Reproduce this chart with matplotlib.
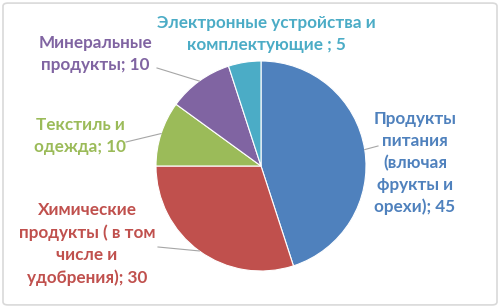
import matplotlib.pyplot as plt
import numpy as np
from matplotlib.patches import FancyBboxPatch

plt.rcParams["font.family"] = ["Lato", "DejaVu Sans"]

labels = [
    "Продукты\nпитания\n(влючая\nфрукты и\nорехи); 45",
    "Химические\nпродукты ( в том\nчисле и\nудобрения); 30",
    "Текстиль и\nодежда; 10",
    "Минеральные\nпродукты; 10",
    "Электронные устройства и\nкомплектующие ; 5",
]
values = [45, 30, 10, 10, 5]
colors = ["#4F81BD", "#C0504D", "#9BBB59", "#8064A2", "#4BACC6"]

# label text centres and leader line starts (pixel coords, y from top)
label_pos = [(415, 163), (87, 244), (80, 136), (95, 54), (266, 34)]
leader_start = [(378, 146), (158, 247), (126, 142), (157, 68), None]

W, H = 500, 308
center = (261, H - 166)
radius = 105

fig = plt.figure(figsize=(W / 100, H / 100), dpi=100)
ax = fig.add_axes([0, 0, 1, 1])
ax.set_xlim(0, W)
ax.set_ylim(0, H)
ax.set_aspect("equal")
ax.axis("off")

wedges, _ = ax.pie(
    values,
    colors=colors,
    startangle=90,
    counterclock=False,
    center=center,
    radius=radius,
    wedgeprops=dict(edgecolor="white", linewidth=0.8),
)
ax.set_xlim(0, W)
ax.set_ylim(0, H)

for w, lab, pos, start, col in zip(wedges, labels, label_pos, leader_start, colors):
    ax.text(pos[0], H - pos[1], lab, color=col, fontsize=12.3, fontweight="bold",
            ha="center", va="center", linespacing=1.45)
    if start is not None:
        mid = np.deg2rad((w.theta1 + w.theta2) / 2)
        end = (center[0] + radius * np.cos(mid), center[1] + radius * np.sin(mid))
        ax.plot([start[0], end[0]], [H - start[1], end[1]], color="#A6A6A6", lw=0.8)

frame = FancyBboxPatch((0.006, 0.01), 0.988, 0.98, boxstyle="round,pad=0,rounding_size=0.01",
                       transform=fig.transFigure, fill=False, edgecolor="#D9D9D9", lw=1.2)
fig.patches.append(frame)

fig.savefig("out.png", dpi=100)
